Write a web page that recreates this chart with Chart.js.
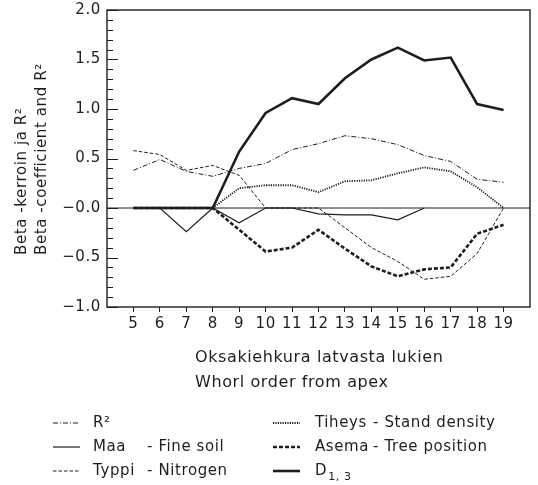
<!DOCTYPE html>
<html>
<head>
<meta charset="utf-8">
<script src="https://cdn.jsdelivr.net/npm/chart.js@4"></script>
<style>
  body { margin: 0; background: #fff; }
  canvas { display: block; }
</style>
</head>
<body>
<canvas id="chartBeta" width="538" height="485"></canvas>
<script>
// Datos
const whorls = [5, 6, 7, 8, 9, 10, 11, 12, 13, 14, 15, 16, 17, 18, 19]
const r2     = [0.38, 0.49, 0.37, 0.32, 0.40, 0.45, 0.59, 0.65, 0.73, 0.70, 0.64, 0.53, 0.47, 0.29, 0.26]
const maa    = [0, 0, -0.24, 0, -0.15, 0, 0, -0.06, -0.07, -0.07, -0.12, 0, null, null, null]
const typpi  = [0.58, 0.54, 0.38, 0.43, 0.33, 0, 0, 0, -0.20, -0.40, -0.54, -0.72, -0.69, -0.46, 0]
const tiheys = [null, null, null, 0, 0.20, 0.23, 0.23, 0.16, 0.27, 0.28, 0.35, 0.41, 0.37, 0.21, 0]
const asema  = [0, 0, 0, 0, -0.22, -0.44, -0.40, -0.22, -0.41, -0.59, -0.69, -0.62, -0.60, -0.26, -0.17]
const d13    = [0, 0, 0, 0, 0.57, 0.96, 1.11, 1.05, 1.31, 1.50, 1.62, 1.49, 1.52, 1.05, 0.99]

const seriesFi = ["R²", "Maa", "Typpi", "Tiheys", "Asema", "D"]
const seriesEn = ["", "Fine soil", "Nitrogen", "Stand density", "Tree position", ""]
const yTitle = ["Beta -kerroin ja R²", "Beta -coefficient and R²"]
const xTitle = ["Oksakiehkura latvasta lukien", "Whorl order from apex"]

const ink = "#1e1e1e"
const font = "DejaVu Sans"

const toPoints = (arr) => whorls.map((w, i) => ({ x: w, y: arr[i] }))

const makeSet = (i, arr, width, dash) => ({
    label: seriesFi[i] + (seriesEn[i] ? " - " + seriesEn[i] : ""),
    data: toPoints(arr),
    borderColor: ink,
    borderWidth: width,
    borderDash: dash,
    pointRadius: 0,
    tension: 0,
    spanGaps: false,
    fill: false
})

const datasets = [
    makeSet(0, r2, 1, [5, 2, 1, 2]),
    makeSet(1, maa, 1.2, []),
    makeSet(2, typpi, 1, [3.5, 2]),
    makeSet(3, tiheys, 1.8, [1.2, 1.2]),
    makeSet(4, asema, 2.6, [4, 2]),
    makeSet(5, d13, 2.6, [])
]

const decor = {
    id: "decor",
    beforeDraw(chart) {
        chart.ctx.letterSpacing = "0.6px"
    },
    beforeDatasetsDraw(chart) {
        const { ctx, chartArea: a, scales: { y } } = chart
        const py = y.getPixelForValue(0)
        ctx.save()
        ctx.strokeStyle = ink
        ctx.lineWidth = 1
        ctx.beginPath()
        ctx.moveTo(a.left, py)
        ctx.lineTo(a.right, py)
        ctx.stroke()
        ctx.restore()
    },
    afterDraw(chart) {
        const { ctx, chartArea: a, scales: { y } } = chart
        ctx.save()
        ctx.strokeStyle = ink
        ctx.fillStyle = ink
        ctx.lineWidth = 1.4
        ctx.strokeRect(a.left, a.top, a.right - a.left, a.bottom - a.top)

        // marcas hacia adentro del eje y
        ctx.lineWidth = 1
        y.ticks.forEach(t => {
            const py = Math.round(y.getPixelForValue(t.value)) + 0.5
            const major = Math.round(t.value * 10) % 5 === 0
            ctx.beginPath()
            ctx.moveTo(a.left, py)
            ctx.lineTo(a.left + (major ? 11 : 6), py)
            ctx.stroke()
        })

        ctx.textBaseline = "middle"
        ctx.textAlign = "left"

        // titulo eje y
        ctx.font = "15px '" + font + "'"
        const yX = [22, 42]
        yTitle.forEach((txt, i) => {
            ctx.save()
            ctx.translate(yX[i], 255)
            ctx.rotate(-Math.PI / 2)
            ctx.fillText(txt, 0, 0)
            ctx.restore()
        })

        // titulo eje x
        ctx.font = "16px '" + font + "'"
        xTitle.forEach((txt, i) => {
            ctx.fillText(txt, 195, 358 + i * 25)
        })

        // leyenda
        ctx.font = "15px '" + font + "'"
        chart.data.datasets.forEach((ds, i) => {
            const col = i < 3 ? 0 : 1
            const row = i % 3
            const sx = col === 0 ? 53 : 273
            const ly = 423 + row * 24
            ctx.save()
            ctx.lineWidth = ds.borderWidth
            ctx.setLineDash(ds.borderDash)
            ctx.beginPath()
            ctx.moveTo(sx, ly)
            ctx.lineTo(sx + 27, ly)
            ctx.stroke()
            ctx.restore()
            const tx = col === 0 ? 93 : 315
            ctx.fillText(seriesFi[i], tx, ly)
            if (seriesEn[i]) {
                ctx.fillText("- " + seriesEn[i], tx + (col === 0 ? 54 : 58), ly)
            }
            if (seriesFi[i] === "D") {
                const w = ctx.measureText("D").width
                ctx.font = "11px '" + font + "'"
                ctx.fillText("1, 3", tx + w + 1, ly + 6)
                ctx.font = "15px '" + font + "'"
            }
        })
        ctx.restore()
    }
}

const yLabel = (v) => {
    const r = Math.round(v * 10)
    if (r % 5 !== 0) return ""
    const s = (Math.abs(r) / 10).toFixed(1)
    return r <= 0 ? "\u2212" + s : s
}

const chart_Beta = new Chart(document.getElementById("chartBeta"), {
    type: "line",
    data: { datasets: datasets },
    options: {
        responsive: false,
        animation: false,
        layout: { padding: { top: 10, right: 8, left: 0, bottom: 0 } },
        plugins: {
            legend: { display: false },
            tooltip: { enabled: false }
        },
        scales: {
            x: {
                type: "linear",
                min: 4,
                max: 20,
                afterFit: (s) => { s.height = 178; s.paddingLeft = 0; s.paddingRight = 0 },
                ticks: {
                    stepSize: 1,
                    autoSkip: false,
                    maxRotation: 0,
                    padding: 3,
                    color: ink,
                    font: { family: font, size: 15 },
                    callback: (v) => (v < 5 || v > 19) ? "" : String(v)
                },
                grid: {
                    drawOnChartArea: false,
                    drawTicks: true,
                    tickLength: 5,
                    lineWidth: 1,
                    color: (c) => (c.tick && (c.tick.value < 5 || c.tick.value > 19)) ? "rgba(0,0,0,0)" : ink
                },
                border: { display: false }
            },
            y: {
                min: -1,
                max: 2,
                afterFit: (s) => { s.width = 107; s.paddingTop = 0; s.paddingBottom = 0 },
                ticks: {
                    stepSize: 0.1,
                    autoSkip: false,
                    padding: 6,
                    color: ink,
                    font: { family: font, size: 15 },
                    callback: yLabel
                },
                grid: { display: false, drawTicks: false },
                border: { display: false }
            }
        }
    },
    plugins: [decor]
})
</script>
</body>
</html>
